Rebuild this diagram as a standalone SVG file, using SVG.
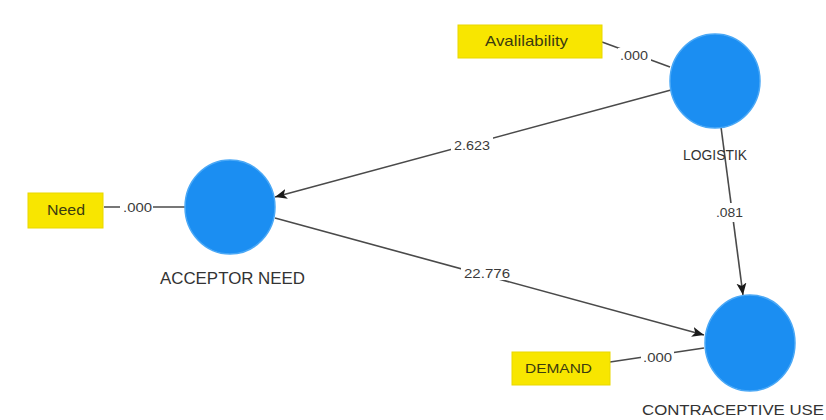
<svg xmlns="http://www.w3.org/2000/svg" width="826" height="420" viewBox="0 0 826 420">
  <defs>
    <marker id="arrow" markerUnits="userSpaceOnUse" markerWidth="14" markerHeight="12" refX="12" refY="5" orient="auto">
      <path d="M0,0 L12,5 L0,10 L3,5 Z" fill="#1a1a1a"/>
    </marker>
    <style>
      .latent { fill: #1b8ef2; stroke: #4aa8f6; stroke-width: 1.5; }
      .indicator { fill: #f8e600; stroke: #e9d800; stroke-width: 1; }
      .edge { stroke: #4a4a4a; stroke-width: 1.6; fill: none; }
      .path { marker-end: url(#arrow); }
      .gap { fill: #ffffff; }
      .name { font-family: "Liberation Sans", Arial, sans-serif; fill: #333333; }
      .coef { font-family: "Liberation Sans", Arial, sans-serif; fill: #3a3a3a; font-size: 13px; }
      .ind { font-family: "Liberation Sans", Arial, sans-serif; fill: #3b3b10; }
    </style>
  </defs>
  <rect width="826" height="420" fill="#ffffff"/>

  <!-- connectors -->
  <g id="connectors">
    <line class="edge" x1="602" y1="42" x2="670" y2="67"/>
    <line class="edge" x1="104" y1="207" x2="185" y2="207"/>
    <line class="edge" x1="610" y1="362" x2="704" y2="348"/>
    <line class="edge path" x1="671" y1="90" x2="275" y2="197"/>
    <line class="edge path" x1="275" y1="218" x2="704" y2="335"/>
    <line class="edge path" x1="721" y1="127" x2="743" y2="295"/>

    <!-- coefficient labels -->
    <rect class="gap" x="618" y="48" width="33" height="14"/>
    <text class="coef" x="620" y="60" textLength="28" lengthAdjust="spacingAndGlyphs">.000</text>
    <rect class="gap" x="120" y="200" width="33" height="14"/>
    <text class="coef" x="123" y="212" textLength="29" lengthAdjust="spacingAndGlyphs">.000</text>
    <rect class="gap" x="641" y="350" width="33" height="14"/>
    <text class="coef" x="643" y="362" textLength="29" lengthAdjust="spacingAndGlyphs">.000</text>
    <rect class="gap" x="451" y="137" width="42" height="15"/>
    <text class="coef" x="454" y="150" textLength="36" lengthAdjust="spacingAndGlyphs">2.623</text>
    <rect class="gap" x="461" y="265" width="52" height="15"/>
    <text class="coef" x="464" y="278" textLength="46" lengthAdjust="spacingAndGlyphs">22.776</text>
    <rect class="gap" x="714" y="203" width="32" height="19"/>
    <text class="coef" x="716" y="217" textLength="27" lengthAdjust="spacingAndGlyphs">.081</text>
  </g>

  <g id="logistik">
    <ellipse class="latent" cx="715" cy="81" rx="45" ry="47"/>
    <text class="name" x="683" y="160" font-size="14" textLength="64" lengthAdjust="spacingAndGlyphs">LOGISTIK</text>
  </g>

  <g id="acceptor-need">
    <ellipse class="latent" cx="230" cy="207" rx="45" ry="47"/>
    <text class="name" x="160" y="284" font-size="16" textLength="145" lengthAdjust="spacingAndGlyphs">ACCEPTOR NEED</text>
  </g>

  <g id="contraceptive-use">
    <ellipse class="latent" cx="750" cy="343" rx="45" ry="48"/>
    <text class="name" x="642" y="415" font-size="15" textLength="182" lengthAdjust="spacingAndGlyphs">CONTRACEPTIVE USE</text>
  </g>

  <g id="availability">
    <rect class="indicator" x="458" y="25" width="144" height="33"/>
    <text class="ind" x="485" y="46" font-size="15" textLength="83" lengthAdjust="spacingAndGlyphs">Avalilability</text>
  </g>

  <g id="need">
    <rect class="indicator" x="28" y="193" width="75" height="35"/>
    <text class="ind" x="47" y="215" font-size="15" textLength="38" lengthAdjust="spacingAndGlyphs">Need</text>
  </g>

  <g id="demand">
    <rect class="indicator" x="512" y="352" width="98" height="33"/>
    <text class="ind" x="525" y="373" font-size="13" textLength="67" lengthAdjust="spacingAndGlyphs">DEMAND</text>
  </g>
</svg>
